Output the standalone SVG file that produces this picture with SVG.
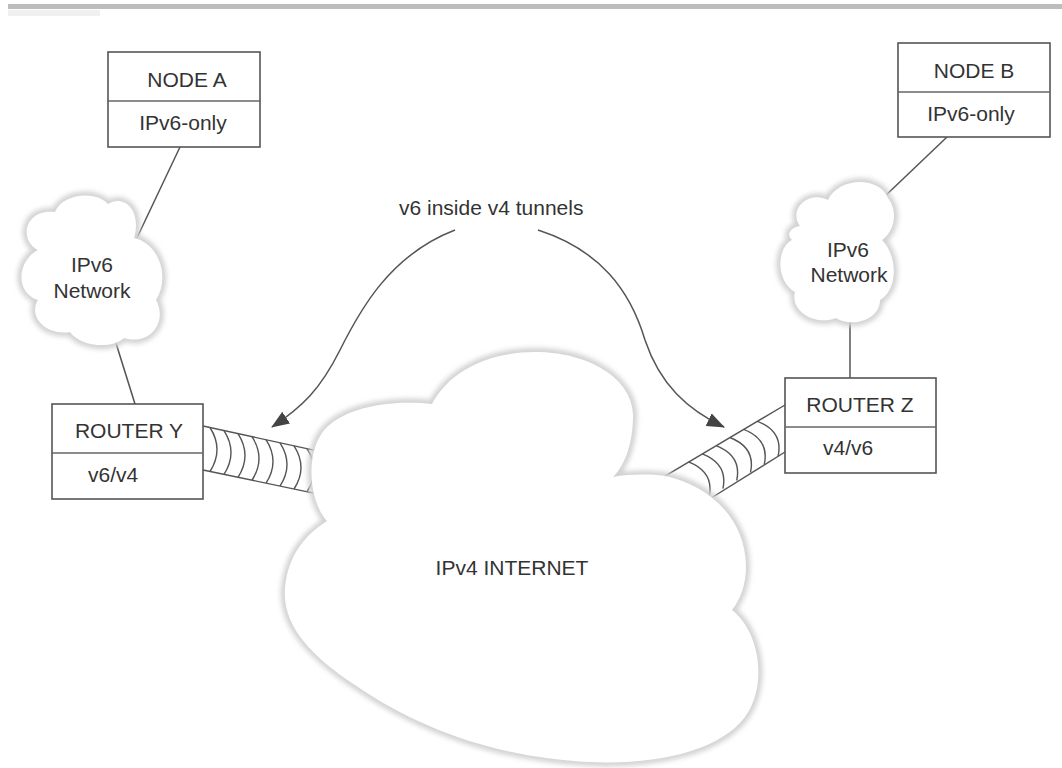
<svg xmlns="http://www.w3.org/2000/svg" xmlns:xlink="http://www.w3.org/1999/xlink" width="1062" height="768" viewBox="0 0 1062 768">
<style>
  .box { fill: #fff; stroke: #555; stroke-width: 1.6; }
  .div { stroke: #666; stroke-width: 1.4; }
  .lbl { font-family: "Liberation Sans", Arial, sans-serif; font-size: 21px; fill: #333; }
  .mid { text-anchor: middle; }
  .conn { fill: none; stroke: #555; stroke-width: 1.5; }
  .tube { fill: none; stroke: #555; stroke-width: 1.4; }
  .cedge { fill: none; stroke: #d2d2d2; stroke-width: 8; filter: url(#soft); }
  .cfill { fill: #fff; stroke: none; }
</style>
<defs>
  <filter id="soft" x="-10%" y="-10%" width="120%" height="120%">
    <feGaussianBlur stdDeviation="2.6"/>
  </filter>
  <marker id="ah" viewBox="0 0 18 14" refX="17" refY="7" markerWidth="18" markerHeight="14" markerUnits="userSpaceOnUse" orient="auto">
    <path d="M0,0 L18,7 L0,14 z" fill="#444"/>
  </marker>
  <path id="bigCloudShape" d="M327,521 C308,500 305,450 326,428 C350,404 400,400 432,404 C450,370 490,352 535,352 C590,352 636,380 633,420 C632,445 625,465 613,477 C630,474 650,474 665,476 C705,484 745,515 746,566 C746,585 740,600 732,610 C760,632 768,685 745,717 C720,750 660,765 590,762 C500,758 420,730 355,685 C310,655 282,625 285,588 C288,555 305,535 327,521 Z"/>
  <path id="leftCloudShape" d="M38,250 C18,240 25,208 55,212 C62,194 95,190 108,204 C124,194 142,210 134,238 C160,244 170,278 156,300 C168,322 150,346 124,338 C110,350 80,346 70,332 C45,336 28,316 38,300 C14,292 18,260 38,250 Z"/>
  <path id="rightCloudShape" d="M800,226 C788,210 808,190 828,200 C838,178 878,175 888,198 C900,214 892,234 882,240 C898,256 898,290 880,300 C880,320 852,328 836,318 C816,326 790,312 795,292 C776,282 776,248 792,240 C786,234 790,228 800,226 Z"/>
</defs>

<rect x="0" y="0" width="1062" height="768" fill="#fff"/>
<rect x="8" y="4" width="1054" height="5" fill="#bdbdbd"/>
<rect x="8" y="10" width="92" height="6" fill="#f0f0f0"/>

<g id="connectors">
  <line class="conn" x1="180" y1="147" x2="135" y2="242"/>
  <line class="conn" x1="115" y1="340" x2="135" y2="404"/>
  <line class="conn" x1="947" y1="137" x2="883" y2="198"/>
  <line class="conn" x1="850" y1="322" x2="850" y2="378"/>
  <path class="conn" d="M455,230 C390,255 360,310 340,350 C320,390 302,407 272,427" marker-end="url(#ah)"/>
  <path class="conn" d="M538,230 C600,250 630,290 645,340 C660,385 688,410 724,427" marker-end="url(#ah)"/>
</g>

<g id="tunnel-y">
  <line class="tube" x1="203" y1="426" x2="316" y2="450.6"/>
  <line class="tube" x1="203" y1="470" x2="316" y2="493.6"/>
  <path class="tube" d="M210,427.5 Q224,449.5 210,471.5 M224,430.6 Q238,452.5 224,474.4 M238,433.6 Q252,455.5 238,477.3 M252,436.7 Q266,458.5 252,480.2 M266,439.7 Q280,461.5 266,483.2 M280,442.8 Q294,464.5 280,486.1 M294,445.8 Q308,467.4 294,489 M307,448.7 Q321,470.2 307,491.7"/>
</g>

<g id="tunnel-z">
  <line class="tube" x1="785" y1="405" x2="662" y2="477.8"/>
  <line class="tube" x1="785" y1="452" x2="708" y2="500"/>
  <path class="tube" d="M757.5,421.3 Q783.5,431.5 778.1,456.2 M743.7,429.4 Q769.7,439.6 764.3,464.3 M729.9,437.5 Q755.9,447.7 750.5,472.4 M716.1,445.6 Q742.1,455.8 736.7,480.5 M702.3,453.8 Q728.3,464 722.9,488.7 M688.5,461.9 Q714.5,472.1 709.1,496.8"/>
</g>

<g id="ipv4-internet">
  <use xlink:href="#bigCloudShape" class="cedge"/>
  <use xlink:href="#bigCloudShape" class="cfill"/>
  <text class="lbl mid" x="512" y="575">IPv4 INTERNET</text>
</g>

<g id="ipv6-network-a">
  <use xlink:href="#leftCloudShape" class="cedge"/>
  <use xlink:href="#leftCloudShape" class="cfill"/>
  <text class="lbl mid" x="92" y="272">IPv6</text>
  <text class="lbl mid" x="92" y="298">Network</text>
</g>

<g id="ipv6-network-b">
  <use xlink:href="#rightCloudShape" class="cedge"/>
  <use xlink:href="#rightCloudShape" class="cfill"/>
  <text class="lbl mid" x="848" y="257">IPv6</text>
  <text class="lbl mid" x="849" y="282">Network</text>
</g>

<g id="node-a">
  <rect class="box" x="108" y="52" width="152" height="95"/>
  <line class="div" x1="108" y1="101" x2="260" y2="101"/>
  <text class="lbl mid" x="187" y="87">NODE A</text>
  <text class="lbl mid" x="183" y="130">IPv6-only</text>
</g>

<g id="node-b">
  <rect class="box" x="898" y="43" width="152" height="94"/>
  <line class="div" x1="898" y1="92" x2="1050" y2="92"/>
  <text class="lbl mid" x="974" y="78">NODE B</text>
  <text class="lbl mid" x="971" y="121">IPv6-only</text>
</g>

<g id="router-y">
  <rect class="box" x="52" y="404" width="151" height="95"/>
  <line class="div" x1="52" y1="453" x2="203" y2="453"/>
  <text class="lbl mid" x="129" y="438">ROUTER Y</text>
  <text class="lbl" x="88" y="482">v6/v4</text>
</g>

<g id="router-z">
  <rect class="box" x="785" y="378" width="151" height="95"/>
  <line class="div" x1="785" y1="427" x2="936" y2="427"/>
  <text class="lbl mid" x="860" y="412">ROUTER Z</text>
  <text class="lbl" x="823" y="455">v4/v6</text>
</g>

<text id="tunnel-label" class="lbl" x="399" y="215">v6 inside v4 tunnels</text>
</svg>
